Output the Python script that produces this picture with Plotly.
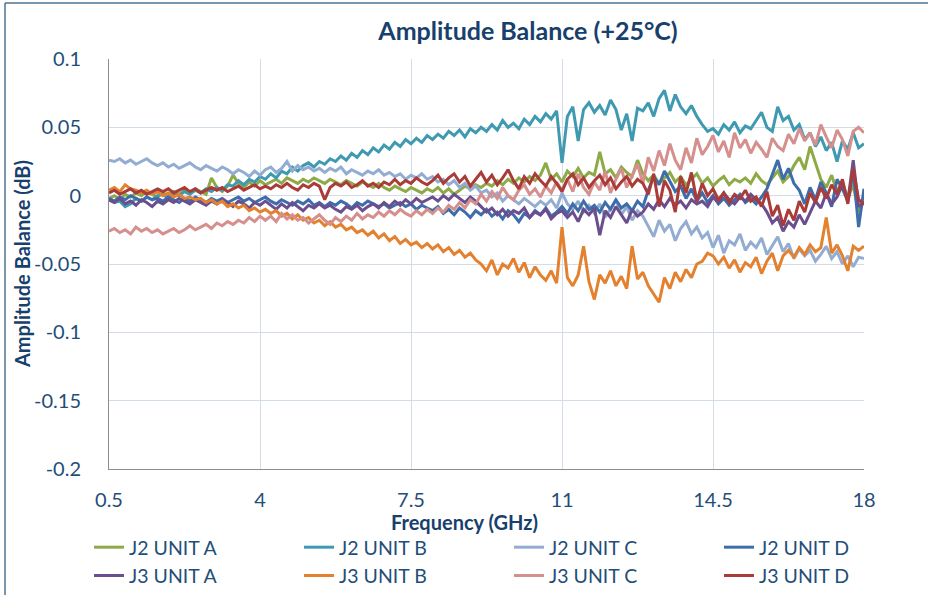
import plotly.graph_objects as go

# Frequency grid (GHz)
freq_ghz = [round(0.5 + 0.125 * i, 3) for i in range(141)]

x_tick_vals = [0.5, 4, 7.5, 11, 14.5, 18]
x_tick_text = ["0.5", "4", "7.5", "11", "14.5", "18"]
y_tick_vals = [0.1, 0.05, 0, -0.05, -0.1, -0.15, -0.2]
y_tick_text = ["0.1", "0.05", "0", "-0.05", "-0.1", "-0.15", "-0.2"]

series_names = ["J2 UNIT A", "J2 UNIT B", "J2 UNIT C", "J2 UNIT D",
                "J3 UNIT A", "J3 UNIT B", "J3 UNIT C", "J3 UNIT D"]

j2_unit_a = [
    -0.002, 0.000, -0.003, 0.001, -0.001, 0.002, 0.000, 0.003, 0.001, -0.001,
    0.002, 0.000, 0.003, 0.001, 0.004, 0.002, 0.005, 0.003, 0.001, 0.013,
    0.006, 0.003, 0.007, 0.015, 0.009, 0.006, 0.010, 0.007, 0.011, 0.008,
    0.010, 0.012, 0.009, 0.013, 0.011, 0.009, 0.012, 0.010, 0.013, 0.011,
    0.009, 0.012, 0.010, 0.008, 0.011, 0.009, 0.007, 0.010, 0.008, 0.006,
    0.009, 0.006, 0.004, 0.007, 0.005, 0.003, 0.006, 0.004, 0.002, 0.005,
    0.003, 0.006, 0.002, 0.005, 0.001, 0.004, 0.007, 0.005, 0.008, 0.006,
    0.009, 0.007, 0.011, 0.008, 0.012, 0.009, 0.013, 0.010, 0.014, 0.011,
    0.015, 0.024, 0.012, 0.016, 0.010, 0.018, 0.014, 0.020, 0.013, 0.017,
    0.015, 0.032, 0.016, 0.019, 0.013, 0.021, 0.017, 0.014, 0.026, 0.016,
    0.011, 0.015, 0.009, 0.013, 0.017, 0.010, 0.014, 0.008, 0.012, 0.016,
    0.009, 0.013, 0.007, 0.011, 0.014, 0.008, 0.012, 0.010, 0.013, 0.009,
    0.016, 0.011, 0.008, 0.013, 0.018, 0.010, 0.014, 0.022, 0.028, 0.019,
    0.036, 0.024, 0.012, 0.006, 0.015, 0.003, 0.010, -0.002, 0.008, -0.012,
    -0.004,
]

j2_unit_b = [
    -0.003, -0.005, -0.004, -0.008, -0.006, -0.002, -0.004, -0.001, -0.003, 0.000,
    0.001, -0.002, 0.002, 0.000, 0.003, 0.001, 0.004, 0.002, 0.005, 0.003,
    0.006, 0.004, 0.008, 0.007, 0.011, 0.008, 0.012, 0.010, 0.014, 0.012,
    0.016, 0.013, 0.018, 0.016, 0.021, 0.018, 0.022, 0.024, 0.021, 0.025,
    0.023, 0.027, 0.025, 0.029, 0.026, 0.031, 0.028, 0.033, 0.030, 0.035,
    0.032, 0.037, 0.034, 0.039, 0.036, 0.041, 0.038, 0.042, 0.039, 0.044,
    0.041, 0.045, 0.042, 0.047, 0.044, 0.048, 0.043, 0.049, 0.046, 0.050,
    0.047, 0.052, 0.048, 0.055, 0.050, 0.053, 0.049, 0.056, 0.052, 0.058,
    0.054, 0.060, 0.056, 0.062, 0.024, 0.058, 0.065, 0.040, 0.063, 0.068,
    0.061, 0.066, 0.059, 0.070, 0.063, 0.048, 0.060, 0.040, 0.064, 0.062,
    0.068, 0.058, 0.071, 0.077, 0.062, 0.074, 0.065, 0.060, 0.066, 0.058,
    0.052, 0.047, 0.049, 0.045, 0.052, 0.048, 0.054, 0.046, 0.051, 0.049,
    0.055, 0.061, 0.050, 0.047, 0.065, 0.055, 0.058, 0.048, 0.052, 0.041,
    0.046, 0.036, 0.043, 0.033, 0.039, 0.025, 0.040, 0.034, 0.046, 0.035,
    0.038,
]

j2_unit_c = [
    0.026, 0.025, 0.027, 0.024, 0.026, 0.023, 0.025, 0.027, 0.024, 0.022,
    0.024, 0.021, 0.023, 0.020, 0.022, 0.024, 0.021, 0.019, 0.022, 0.020,
    0.018, 0.021, 0.019, 0.016, 0.019, 0.017, 0.014, 0.018, 0.015, 0.019,
    0.021, 0.017, 0.020, 0.025, 0.018, 0.022, 0.019, 0.021, 0.018, 0.020,
    0.017, 0.020, 0.018, 0.021, 0.016, 0.019, 0.017, 0.015, 0.018, 0.016,
    0.019, 0.015, 0.017, 0.014, 0.016, 0.012, 0.015, 0.013, 0.016, 0.012,
    0.014, 0.010, 0.012, 0.008, 0.011, 0.006, 0.009, 0.004, 0.007, 0.002,
    0.004, -0.001, 0.002, -0.004, 0.000, -0.003, -0.006, -0.002, -0.005, -0.008,
    -0.004, -0.007, -0.003, -0.009, 0.002, -0.006, -0.010, -0.004, -0.012, -0.007,
    -0.013, -0.006, -0.016, -0.009, -0.003, -0.014, -0.008, -0.018, -0.011, -0.015,
    -0.022, -0.030, -0.018, -0.026, -0.021, -0.033, -0.024, -0.019, -0.028, -0.023,
    -0.031, -0.027, -0.038, -0.029, -0.042, -0.033, -0.036, -0.028, -0.040, -0.034,
    -0.038, -0.031, -0.043, -0.036, -0.030, -0.041, -0.035, -0.046, -0.039, -0.044,
    -0.040, -0.048, -0.043, -0.037, -0.046, -0.041, -0.050, -0.044, -0.052, -0.045,
    -0.046,
]

j2_unit_d = [
    -0.002, -0.004, -0.001, -0.003, 0.000, -0.002, -0.004, -0.001, -0.003, -0.002,
    -0.004, -0.001, -0.003, -0.005, -0.002, -0.004, -0.001, -0.003, -0.005, -0.002,
    -0.004, -0.002, -0.005, -0.003, -0.001, -0.004, -0.002, -0.005, -0.003, -0.001,
    -0.004, -0.006, -0.003, -0.005, -0.007, -0.004, -0.006, -0.003, -0.007, -0.005,
    -0.008, -0.005, -0.007, -0.004, -0.006, -0.009, -0.005, -0.007, -0.004, -0.006,
    -0.008, -0.006, -0.009, -0.007, -0.005, -0.008, -0.006, -0.010, -0.007, -0.009,
    -0.011, -0.008, -0.013, -0.010, -0.014, -0.009, -0.012, -0.016, -0.011, -0.014,
    -0.010, -0.015, -0.012, -0.017, -0.011, -0.014, -0.019, -0.013, -0.016, -0.011,
    -0.014, -0.009, -0.015, -0.012, -0.008, -0.013, -0.006, -0.011, -0.004, -0.010,
    -0.007, -0.012, -0.005, -0.010, -0.003, -0.009, -0.006, -0.011, -0.004, -0.008,
    0.004, 0.014, 0.008, 0.018, 0.011, 0.003, 0.007, -0.002, 0.005, -0.004,
    0.002, -0.005, 0.000, -0.006, -0.002, -0.007, -0.003, 0.001, -0.005, -0.002,
    -0.006, -0.001, 0.005, 0.015, 0.026, 0.012, 0.020, 0.009, 0.004, -0.006,
    0.006, -0.003, 0.010, 0.002, -0.008, 0.012, 0.005, -0.004, 0.018, -0.023,
    0.005,
]

j3_unit_a = [
    -0.003, -0.005, -0.002, -0.006, -0.004, -0.007, -0.003, -0.005, -0.008, -0.004,
    -0.006, -0.003, -0.005, -0.002, -0.004, -0.006, -0.003, -0.005, -0.007, -0.004,
    -0.006, -0.003, -0.005, -0.008, -0.004, -0.006, -0.009, -0.005, -0.007, -0.004,
    -0.007, -0.010, -0.006, -0.009, -0.005, -0.008, -0.011, -0.007, -0.009, -0.006,
    -0.009, -0.007, -0.010, -0.012, -0.008, -0.010, -0.007, -0.011, -0.008, -0.006,
    -0.009, -0.005, -0.008, -0.004, -0.007, -0.003, -0.006, -0.002, -0.005, -0.003,
    -0.001, -0.004, 0.000, -0.003, 0.001, -0.002, -0.005, -0.001, -0.004, -0.008,
    -0.012, -0.009, -0.014, -0.010, -0.015, -0.011, -0.013, -0.009, -0.016, -0.012,
    -0.014, -0.010, -0.017, -0.013, -0.011, -0.016, -0.012, -0.019, -0.010, -0.014,
    -0.009, -0.029, -0.011, -0.016, -0.008, -0.014, -0.020, -0.010, -0.015, -0.012,
    -0.006, -0.010, -0.003, -0.008, -0.002, -0.007, -0.004, -0.009, -0.003, -0.006,
    -0.004, -0.008, -0.001, -0.005, 0.002, -0.003, -0.006, -0.001, -0.004, 0.001,
    -0.003, -0.006, -0.012, -0.020, -0.016, -0.026, -0.019, -0.023, -0.014, -0.021,
    -0.012, -0.004, -0.009, 0.002, -0.006, -0.001, 0.008, -0.004, 0.026, -0.008,
    -0.005,
]

j3_unit_b = [
    0.004, 0.006, 0.003, 0.008, 0.005, 0.004, 0.002, 0.004, 0.001, 0.003,
    0.000, 0.002, -0.001, 0.001, -0.002, -0.001, -0.003, -0.002, -0.005, -0.003,
    -0.006, -0.004, -0.008, -0.006, -0.009, -0.007, -0.011, -0.009, -0.012, -0.010,
    -0.013, -0.011, -0.015, -0.013, -0.017, -0.014, -0.018, -0.016, -0.020, -0.018,
    -0.022, -0.019, -0.023, -0.021, -0.025, -0.023, -0.027, -0.025, -0.029, -0.026,
    -0.031, -0.028, -0.033, -0.030, -0.035, -0.032, -0.036, -0.034, -0.038, -0.035,
    -0.039, -0.036, -0.041, -0.038, -0.043, -0.040, -0.045, -0.042, -0.047, -0.050,
    -0.055, -0.047, -0.058, -0.050, -0.053, -0.046, -0.056, -0.049, -0.060, -0.052,
    -0.058, -0.062, -0.055, -0.064, -0.023, -0.060, -0.066, -0.058, -0.037, -0.063,
    -0.076, -0.058, -0.064, -0.055, -0.066, -0.059, -0.068, -0.037, -0.061, -0.056,
    -0.066, -0.072, -0.078, -0.060, -0.068, -0.056, -0.063, -0.054, -0.060, -0.050,
    -0.048, -0.042, -0.044, -0.050, -0.045, -0.053, -0.047, -0.056, -0.049, -0.052,
    -0.045, -0.057, -0.048, -0.042, -0.055, -0.044, -0.040, -0.045, -0.038, -0.043,
    -0.036, -0.041, -0.038, -0.016, -0.042, -0.036, -0.044, -0.055, -0.037, -0.040,
    -0.037,
]

j3_unit_c = [
    -0.026, -0.024, -0.027, -0.025, -0.028, -0.023, -0.026, -0.024, -0.027, -0.025,
    -0.028, -0.026, -0.024, -0.027, -0.025, -0.022, -0.025, -0.023, -0.021, -0.024,
    -0.020, -0.022, -0.019, -0.021, -0.018, -0.020, -0.016, -0.019, -0.015, -0.018,
    -0.015, -0.019, -0.013, -0.017, -0.014, -0.018, -0.016, -0.020, -0.017, -0.014,
    -0.018, -0.021, -0.016, -0.019, -0.015, -0.018, -0.013, -0.017, -0.014, -0.016,
    -0.012, -0.015, -0.011, -0.014, -0.010, -0.013, -0.015, -0.011, -0.014, -0.010,
    -0.013, -0.009, -0.012, -0.007, -0.010, -0.005, -0.009, -0.003, -0.006, 0.001,
    -0.004, 0.003, -0.002, 0.006, 0.000, -0.003, 0.004, 0.008, 0.001, 0.005,
    -0.001, 0.007, 0.002, 0.010, 0.004, 0.012, 0.003, 0.016, 0.006, 0.001,
    0.010, 0.004, 0.018, 0.002, 0.012, 0.020, 0.006, 0.014, 0.023, 0.009,
    0.028, 0.018, 0.033, 0.022, 0.038, 0.026, 0.019, 0.035, 0.024, 0.042,
    0.030, 0.036, 0.044, 0.032, 0.040, 0.028, 0.046, 0.035, 0.041, 0.031,
    0.039, 0.034, 0.028, 0.042, 0.036, 0.033, 0.045, 0.038, 0.049, 0.040,
    0.046, 0.037, 0.052, 0.043, 0.035, 0.048, 0.041, 0.029, 0.047, 0.050,
    0.046,
]

j3_unit_d = [
    0.002, 0.004, 0.001, 0.003, 0.005, 0.002, 0.004, 0.001, 0.003, 0.005,
    0.003, 0.005, 0.002, 0.004, 0.006, 0.003, 0.005, 0.002, 0.004, 0.006,
    0.004, 0.006, 0.003, 0.005, 0.007, 0.004, 0.006, 0.008, 0.005, 0.007,
    0.005, 0.008, 0.006, 0.009, 0.006, 0.004, 0.008, 0.006, 0.009, 0.007,
    -0.003, 0.006, 0.009, 0.007, 0.010, 0.006, 0.008, 0.011, 0.007, 0.009,
    0.006, 0.010, 0.008, 0.012, 0.008, 0.011, 0.009, 0.013, 0.010, 0.008,
    0.011, 0.015, 0.009, 0.013, 0.016, 0.010, 0.014, 0.007, 0.012, 0.017,
    0.010, 0.015, 0.008, 0.013, 0.019, 0.011, 0.005, 0.014, 0.009, 0.016,
    0.011, 0.007, 0.014, 0.009, 0.003, 0.012, 0.016, 0.008, 0.013, 0.006,
    0.011, 0.015, 0.008, 0.013, 0.005, 0.010, 0.014, 0.007, 0.012, 0.009,
    0.001, 0.016, -0.008, 0.011, 0.004, -0.012, 0.014, 0.002, 0.017, -0.004,
    0.009, 0.000, 0.005, -0.003, 0.002, -0.005, 0.001, -0.002, 0.004, -0.004,
    -0.001, -0.008, 0.003, -0.015, -0.007, -0.022, -0.010, -0.018, -0.004, -0.012,
    0.002, -0.005, 0.006, -0.002, 0.008, 0.001, 0.012, -0.006, 0.020, -0.003,
    -0.006,
]

series_values = [j2_unit_a, j2_unit_b, j2_unit_c, j2_unit_d,
                 j3_unit_a, j3_unit_b, j3_unit_c, j3_unit_d]
series_colors = ["#8DAA47", "#3F9AB1", "#93ADD2", "#3E6DAA",
                 "#6B4E8E", "#E3812F", "#D58F8D", "#A93C38"]

TEXT_COLOR = "#1F4E79"
TITLE_COLOR = "#17406D"
FONT = "Lato, 'Open Sans', sans-serif"

fig = go.Figure()
for name, vals, col in zip(series_names, series_values, series_colors):
    fig.add_trace(go.Scatter(x=freq_ghz, y=vals, mode="lines", name=name,
                             line=dict(color=col, width=3)))

# plot area: x 109..864, y 59..469 in a 928x595 canvas
L, R, T, B = 109, 64, 59, 126
W, H = 928 - L - R, 595 - T - B


def px(xp):
    return (xp - L) / W


def py(yp):
    return (595 - B - yp) / H


fig.update_layout(
    width=928, height=595,
    margin=dict(l=L, r=R, t=T, b=B, autoexpand=False),
    paper_bgcolor="white", plot_bgcolor="white",
    font=dict(family=FONT, color=TEXT_COLOR, size=20),
    title=dict(text="<b>Amplitude Balance (+25°C)</b>", x=528 / 928, xanchor="center",
               y=1 - 31 / 595, yanchor="middle",
               font=dict(size=25, color=TITLE_COLOR, family=FONT)),
    xaxis=dict(range=[0.5, 18], tickvals=x_tick_vals, ticktext=x_tick_text,
               showgrid=True, gridcolor="#D3DDE8", gridwidth=1,
               showline=True, linecolor="#8C8C8C", linewidth=1,
               mirror=False, zeroline=False, ticks="", ticklen=0,
               ticklabelstandoff=13,
               tickfont=dict(size=20, color=TEXT_COLOR)),
    yaxis=dict(range=[-0.2, 0.1], tickvals=y_tick_vals, ticktext=y_tick_text,
               showgrid=True, gridcolor="#D3DDE8", gridwidth=1,
               showline=True, linecolor="#8C8C8C", linewidth=1,
               zeroline=False, ticks="", ticklen=0,
               ticklabelstandoff=23,
               tickfont=dict(size=20, color=TEXT_COLOR)),
    showlegend=True,
    legend=dict(orientation="h", x=px(89), xanchor="left", y=py(528), yanchor="top",
                entrywidth=165, entrywidthmode="pixels", itemwidth=30,
                font=dict(size=19.5, color=TEXT_COLOR, family=FONT),
                bgcolor="rgba(0,0,0,0)", borderwidth=0, traceorder="normal"),
)

# axis titles placed as annotations (Excel-like offsets)
fig.add_annotation(text="<b>Frequency (GHz)</b>", xref="paper", yref="paper",
                   x=px(464), y=py(522), xanchor="center", yanchor="middle",
                   showarrow=False, font=dict(size=20, color=TITLE_COLOR, family=FONT))
fig.add_annotation(text="<b>Amplitude Balance (dB)</b>", xref="paper", yref="paper",
                   x=px(22), y=py(264), xanchor="center", yanchor="middle", textangle=-90,
                   showarrow=False, font=dict(size=20, color=TITLE_COLOR, family=FONT))

# chart-area border (left and top edges visible)
fig.add_shape(type="line", xref="paper", yref="paper", x0=px(5), x1=px(5),
              y0=py(3), y1=py(600), line=dict(color="#4D7391", width=1.5))
fig.add_shape(type="line", xref="paper", yref="paper", x0=px(5), x1=px(930),
              y0=py(3), y1=py(3), line=dict(color="#4D7391", width=1.5))

# remove the default 8px page margin so the 928x595 figure fills the window
fig.write_html("out.html", config={"displayModeBar": False},
               post_script="document.body.style.margin='0px';")
